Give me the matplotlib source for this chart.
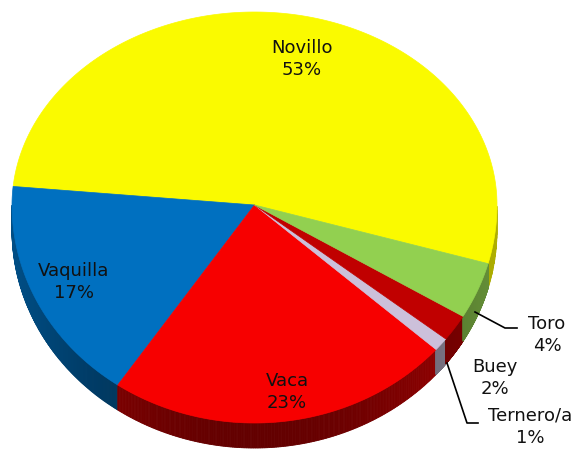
import numpy as np
import matplotlib.pyplot as plt
from matplotlib.colors import to_rgb

# data
labels = ['Novillo', 'Vaquilla', 'Vaca', 'Ternero/a', 'Buey', 'Toro']
values = [52.8, 17.0, 23.0, 1.0, 2.0, 4.2]
pct_text = ['53%', '17%', '23%', '1%', '2%', '4%']
colors = ['#FAFA00', '#0070C0', '#F70000', '#CCC0DA', '#C00000', '#92D050']

# pie geometry (pixels)
cx, cy = 254.5, 205
rx, ry_top, ry_bot = 242.5, 193, 218
depth = 25
start = -15.6


def proj(th):
    th = np.radians(th)
    s = np.sin(th)
    ry = np.where(s > 0, ry_top, ry_bot)
    return cx + rx * np.cos(th), cy - ry * s


fig = plt.figure(figsize=(5.81, 4.49), dpi=100)
ax = fig.add_axes([0, 0, 1, 1])
ax.set_xlim(0, 581)
ax.set_ylim(449, 0)
ax.axis('off')

total = sum(values)
edges = [start]
for v in values:
    edges.append(edges[-1] + v / total * 360)

# side walls (front half only)
for i, c in enumerate(colors):
    a0, a1 = edges[i] % 360, edges[i + 1] % 360
    if a1 <= a0:
        a1 += 360
    th = np.linspace(a0, a1, 200)
    th = th[(np.sin(np.radians(th)) < 0)]
    if len(th) < 2:
        continue
    base = np.array(to_rgb(c))
    for t0, t1 in zip(th[:-1], th[1:]):
        x0, y0 = proj(t0)
        x1, y1 = proj(t1)
        f = 0.7 - 0.3 * np.sin(np.radians((t0 + t1) / 2)) ** 2
        col = base * f
        ax.fill([x0, x1, x1, x0], [y0, y1, y1 + depth, y0 + depth],
                color=col, lw=0.6, ec=col)

# top surface
for i, c in enumerate(colors):
    th = np.linspace(edges[i], edges[i + 1], 200)
    x, y = proj(th)
    ax.fill(np.r_[cx, x], np.r_[cy, y], color=c, lw=0.5, ec=c)

# labels
lab_pos = {'Novillo': (302, 59), 'Vaquilla': (74, 282), 'Vaca': (287, 392),
           'Toro': (547, 335), 'Buey': (495, 378), 'Ternero/a': (530, 427)}
for name, p in zip(labels, pct_text):
    x, y = lab_pos[name]
    ax.text(x, y, name + '\n' + p, ha='center', va='center', fontsize=13,
            family='DejaVu Sans', linespacing=1.35, color='#111111')

# leader lines
ax.plot([475, 505, 517], [312, 328, 328], color='black', lw=1.2)
ax.plot([447, 467, 478], [363, 423, 423], color='black', lw=1.2)

fig.savefig('out.png', dpi=100)
